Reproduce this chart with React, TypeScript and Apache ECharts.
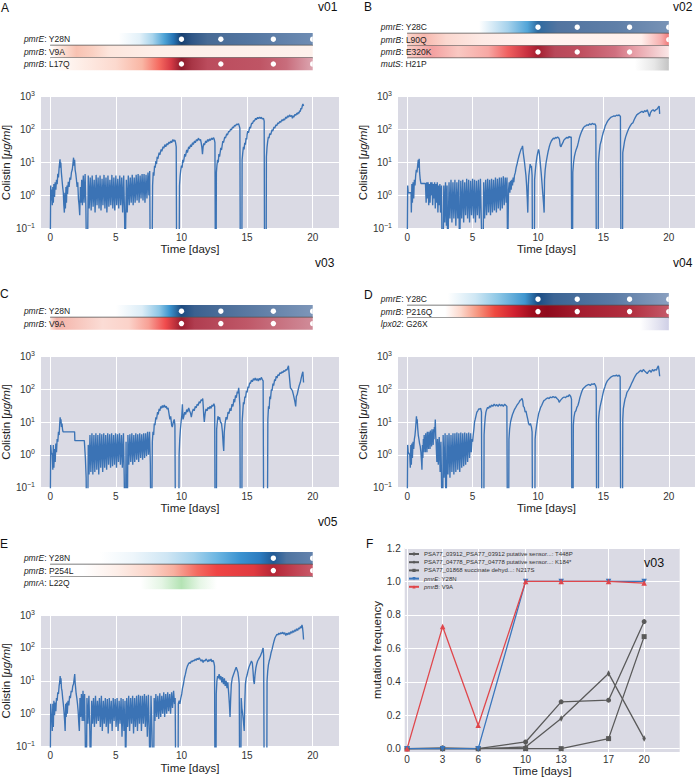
import React, { useEffect, useRef } from 'react';
import * as echarts from 'echarts';

const FONT = '"Liberation Sans", Arial, sans-serif';
const BG = '#dadae4';
const LINE = '#3b73b5';
const TXT = '#333333';

// ---------- colistin time series (day, µg/ml); 0.01 = below axis ----------
const colistinA: [number, number][] = [
[0,0.01],[0.04,2],[0.08,0.7],[0.12,1.5],[0.16,0.5],[0.2,1.8],[0.24,0.6],[0.28,2.2],[0.33,0.9],[0.38,2.5],[0.43,1.5],[0.48,3],[0.53,2.2],[0.58,4.5],[0.63,3.5],[0.68,7],[0.72,10],[0.75,12.5],[0.78,7],[0.81,10],[0.85,5],[0.9,3],[0.95,1.8],[1.0,1.2],[1.04,0.5],[1.08,0.3],[1.12,1.2],[1.16,0.4],[1.2,1.8],[1.24,0.6],[1.28,2],[1.32,1.1],[1.38,2.6],[1.44,1.8],[1.5,3.5],[1.56,3],[1.62,5],[1.68,6],[1.73,9],[1.78,14],[1.82,8],[1.86,12],[1.9,6],[1.95,4.5],[2.0,3],[2.05,1.8],[2.1,2.5],[2.15,0.8],[2.2,0.5],[2.25,0.25],[2.3,1.8],[2.35,0.6],[2.4,3],[2.45,0.5],[2.52,4],[2.58,0.6],[2.66,4.5],[2.72,0.4],[2.77,0.01],[2.84,0.01],
[2.9,4],[2.97,0.4],[3.05,3.5],[3.12,0.35],[3.2,4],[3.27,0.45],[3.35,3],[3.42,0.3],[3.5,4.2],[3.57,0.5],[3.65,3.5],[3.72,0.4],[3.8,4],[3.87,0.35],[3.95,3.2],[4.02,0.5],[4.1,4.2],[4.17,0.4],[4.25,3.5],[4.32,0.3],[4.4,4],[4.47,0.45],[4.55,3],[4.62,0.5],[4.7,4.2],[4.77,0.4],[4.85,3.5],[4.92,0.35],[5.0,4],[5.07,0.5],[5.15,3.2],[5.22,0.4],[5.3,4],[5.37,0.5],[5.45,3.5],[5.52,0.3],[5.6,4],[5.67,0.2],[5.71,0.01],[5.76,0.01],[5.8,3],[5.87,0.3],[5.95,4],[6.02,0.5],[6.1,3.5],[6.17,0.6],[6.25,4.2],[6.32,0.5],[6.4,3.5],[6.47,0.6],[6.55,4.2],[6.62,0.7],[6.7,4.5],[6.77,0.6],[6.85,4],[6.92,0.8],[7.0,4.5],[7.07,0.7],[7.15,4.5],[7.22,0.6],[7.3,4.2],[7.37,0.8],[7.45,5],[7.52,1],[7.58,5.5],[7.62,0.01],[7.76,0.01],
[7.8,2],[7.85,5],[7.9,4],[7.95,8],[8.0,7],[8.05,11],[8.1,9],[8.15,15],[8.2,13],[8.3,20],[8.35,17],[8.45,25],[8.5,22],[8.6,30],[8.65,27],[8.75,35],[8.8,30],[8.9,38],[8.95,34],[9.05,42],[9.1,38],[9.2,45],[9.25,40],[9.35,50],[9.4,44],[9.5,48],[9.55,40],[9.6,30],[9.63,0.01],[9.82,0.01],
[9.85,2],[9.9,4],[9.95,6],[10.0,8],[10.05,7],[10.1,12],[10.15,10],[10.25,18],[10.3,15],[10.4,24],[10.45,20],[10.55,30],[10.6,26],[10.7,35],[10.75,30],[10.85,40],[10.9,35],[11.0,45],[11.05,40],[11.15,50],[11.2,45],[11.3,55],[11.35,48],[11.45,50],[11.5,40],[11.55,30],[11.6,18],[11.65,30],[11.7,38],[11.75,34],[11.85,45],[11.9,40],[12.0,50],[12.05,44],[12.15,52],[12.2,47],[12.3,55],[12.35,50],[12.45,57],[12.5,50],[12.55,40],[12.58,0.01],[12.64,0.01],
[12.66,5],[12.7,8],[12.75,12],[12.8,10],[12.85,18],[12.9,15],[13.0,28],[13.05,24],[13.15,45],[13.2,40],[13.3,60],[13.35,55],[13.45,75],[13.5,68],[13.6,90],[13.65,85],[13.75,105],[13.8,98],[13.9,120],[13.95,112],[14.05,135],[14.1,128],[14.2,148],[14.25,140],[14.35,150],[14.4,130],[14.45,110],[14.48,0.01],[14.6,0.01],
[14.62,12],[14.67,20],[14.72,30],[14.77,25],[14.82,40],[14.87,35],[14.92,55],[14.97,50],[15.0,70],[15.05,90],[15.1,80],[15.2,120],[15.25,110],[15.35,160],[15.4,150],[15.5,190],[15.55,180],[15.65,220],[15.7,200],[15.8,235],[15.85,215],[15.95,240],[16.0,220],[16.1,235],[16.15,210],[16.25,220],[16.3,180],[16.33,0.01],[16.45,0.01],
[16.47,15],[16.52,30],[16.57,45],[16.62,60],[16.67,55],[16.72,75],[16.8,70],[16.9,100],[16.95,90],[17.05,120],[17.1,110],[17.2,140],[17.25,130],[17.35,160],[17.4,150],[17.5,180],[17.55,165],[17.65,200],[17.7,185],[17.8,210],[17.85,195],[17.95,240],[18.0,220],[18.1,260],[18.15,240],[18.25,280],[18.3,250],[18.4,270],[18.45,220],[18.5,260],[18.55,240],[18.65,290],[18.7,270],[18.8,320],[18.85,290],[18.9,340],[18.95,310],[19.0,380],[19.05,350],[19.1,450],[19.15,420],[19.2,520],[19.25,600],[19.3,520]
];

const colistinB: [number, number][] = [
[0,0.01],[0.04,2],[0.08,1.2],[0.3,1.2],[0.32,0.3],[0.36,2.2],[0.4,0.6],[0.45,2.5],[0.5,0.8],[0.55,3],[0.6,2],[0.65,4],[0.7,6],[0.75,5],[0.8,8],[0.85,12],[0.88,7],[0.92,13],[0.95,5],[1.0,3],[1.05,2.3],[1.4,2.3],[1.45,0.6],[1.5,2.5],[1.55,0.8],[1.6,2.5],[1.65,0.5],[1.7,2.2],[1.75,0.6],[1.8,2.5],[1.85,1],[1.9,2.5],[1.95,0.5],[2.0,2.2],[2.05,0.8],[2.1,2.5],[2.15,0.4],[2.2,2.2],[2.25,0.6],[2.3,2.5],[2.35,0.3],[2.4,2],[2.45,0.5],[2.5,2.2],[2.55,0.3],[2.62,2],[2.68,0.01],[2.75,0.01],
[2.8,2],[2.87,0.15],[2.93,2.5],[3.0,0.12],[3.05,2],[3.1,0.01],[3.15,0.01],[3.2,2.5],[3.27,0.2],[3.35,3],[3.42,0.15],[3.5,2.5],[3.57,0.2],[3.65,3],[3.72,0.12],[3.8,2.5],[3.87,0.2],[3.95,3],[4.0,0.01],[4.05,0.01],[4.1,2.8],[4.17,0.2],[4.25,3],[4.32,0.15],[4.4,2.5],[4.47,0.25],[4.55,3.2],[4.62,0.2],[4.7,3],[4.77,0.15],[4.85,2.8],[4.92,0.25],[5.0,3.2],[5.07,0.2],[5.15,3],[5.22,0.15],[5.3,2.8],[5.37,0.25],[5.45,3],[5.52,0.2],[5.6,3.2],[5.67,0.15],[5.74,0.01],[5.8,0.01],[5.85,2.5],[5.92,0.2],[6.0,3],[6.07,0.25],[6.15,3.2],[6.22,0.3],[6.3,3],[6.37,0.25],[6.45,3.2],[6.52,0.3],[6.6,3],[6.67,0.35],[6.75,3.5],[6.82,0.3],[6.9,3.2],[6.97,0.4],[7.05,3.5],[7.12,0.35],[7.2,3.5],[7.27,0.4],[7.35,3.8],[7.42,0.5],[7.5,3.5],[7.57,0.6],[7.63,3.5],[7.68,0.01],[7.72,0.01],
[7.75,1.5],[7.8,2.5],[7.85,1.2],[7.9,2.8],[7.95,1.5],[8.0,3],[8.05,2],[8.1,3.5],[8.15,2.5],[8.2,4],[8.27,5],[8.33,7],[8.4,9],[8.47,12],[8.55,16],[8.62,20],[8.7,25],[8.77,28],[8.82,32],[8.87,20],[8.92,14],[8.97,10],[9.03,6],[9.08,4],[9.13,2],[9.18,0.8],[9.22,0.3],[9.26,2],[9.3,4],[9.35,6],[9.4,9],[9.45,7],[9.5,8],[9.55,4],[9.58,0.01],[9.72,0.01],[9.74,3],[9.8,6],[9.86,10],[9.92,15],[9.98,20],[10.04,25],[10.08,22],[10.13,15],[10.18,9],[10.24,5],[10.3,2.5],[10.36,1.2],[10.42,0.6],[10.47,0.3],[10.5,3],[10.55,6],[10.62,10],[10.7,15],[10.78,22],[10.86,30],[10.94,38],[11.02,45],[11.1,50],[11.18,55],[11.26,52],[11.34,58],[11.42,55],[11.5,60],[11.58,56],[11.64,50],[11.7,32],[11.76,30],[11.82,35],[11.9,40],[11.98,48],[12.06,52],[12.14,55],[12.22,58],[12.3,55],[12.38,62],[12.46,58],[12.54,60],[12.58,0.01],[12.64,0.01],
[12.66,5],[12.72,10],[12.78,15],[12.85,20],[12.92,25],[13.0,30],[13.08,40],[13.16,55],[13.24,70],[13.32,85],[13.4,100],[13.48,115],[13.56,125],[13.65,130],[13.75,140],[13.85,135],[13.95,150],[14.05,140],[14.15,155],[14.25,145],[14.35,150],[14.42,130],[14.46,0.01],[14.6,0.01],
[14.62,10],[14.68,20],[14.75,35],[14.83,45],[14.9,60],[14.98,80],[15.06,100],[15.14,130],[15.22,150],[15.3,175],[15.4,200],[15.5,220],[15.6,240],[15.7,250],[15.8,260],[15.9,255],[16.0,275],[16.1,265],[16.2,280],[16.3,250],[16.34,0.01],[16.46,0.01],
[16.48,20],[16.55,30],[16.62,45],[16.7,60],[16.78,75],[16.86,90],[16.95,110],[17.05,130],[17.15,150],[17.25,160],[17.35,200],[17.45,240],[17.55,280],[17.65,300],[17.75,320],[17.85,340],[17.95,360],[18.05,330],[18.15,380],[18.25,350],[18.35,400],[18.45,300],[18.52,250],[18.6,330],[18.7,380],[18.8,400],[18.9,360],[19.0,400],[19.1,420],[19.2,480],[19.26,520],[19.3,300]
];

const colistinC: [number, number][] = [
[0,0.01],[0.04,2],[0.08,1.2],[0.12,1.1],[0.16,1.0],[0.2,0.35],[0.24,2],[0.28,0.4],[0.33,1.5],[0.38,0.6],[0.43,2.2],[0.48,1.2],[0.53,3],[0.58,2.5],[0.63,5],[0.68,4],[0.72,8],[0.76,14],[0.79,9],[0.82,12],[0.86,7],[0.9,9],[0.94,6],[0.98,5],[1.86,5],[1.88,2.7],[2.6,2.7],[2.68,0.8],[2.74,0.2],[2.77,0.01],[2.86,0.01],
[2.9,2],[2.96,0.25],[3.03,4],[3.1,0.3],[3.18,4.5],[3.25,0.25],[3.33,4],[3.4,0.3],[3.48,4.5],[3.55,0.35],[3.63,4],[3.7,0.25],[3.78,4.5],[3.85,0.4],[3.93,4.2],[4.0,0.3],[4.08,4.5],[4.15,0.4],[4.23,4],[4.3,0.35],[4.38,4.5],[4.45,0.5],[4.53,4.2],[4.6,0.4],[4.68,4.5],[4.75,0.45],[4.83,4],[4.9,0.5],[4.98,4.5],[5.05,0.4],[5.13,4.2],[5.2,0.6],[5.28,4.5],[5.35,0.5],[5.43,4],[5.5,0.4],[5.58,4.5],[5.64,0.2],[5.68,0.01],[5.74,0.01],[5.78,2.5],[5.82,0.01],[5.88,0.01],[5.92,4],[5.99,0.5],[6.07,4.2],[6.14,0.6],[6.22,4.5],[6.29,0.5],[6.37,4],[6.44,0.6],[6.52,4.5],[6.59,0.7],[6.67,4.2],[6.74,0.6],[6.82,4.5],[6.89,0.8],[6.97,4.2],[7.04,0.7],[7.12,4.5],[7.19,0.8],[7.27,4.5],[7.34,0.9],[7.42,5],[7.49,1],[7.57,5],[7.63,0.5],[7.66,0.01],[7.74,0.01],
[7.78,2.5],[7.83,5],[7.88,4],[7.93,9],[7.98,8],[8.05,14],[8.1,12],[8.18,20],[8.23,17],[8.3,25],[8.35,22],[8.43,30],[8.48,26],[8.55,32],[8.6,28],[8.7,33],[8.75,28],[8.85,30],[8.9,25],[8.98,27],[9.05,18],[9.12,12],[9.18,15],[9.25,8],[9.3,7],[9.38,10],[9.45,12],[9.5,8],[9.54,0.01],[9.8,0.01],
[9.82,1],[9.87,3],[9.92,6],[9.97,10],[10.02,15],[10.07,35],[10.12,12],[10.18,15],[10.25,20],[10.32,17],[10.4,24],[10.47,20],[10.55,27],[10.62,22],[10.7,18],[10.75,14],[10.82,20],[10.9,25],[10.97,22],[11.05,30],[11.12,27],[11.2,35],[11.27,32],[11.35,42],[11.42,38],[11.5,48],[11.57,45],[11.62,52],[11.66,30],[11.7,15],[11.74,10],[11.8,18],[11.87,25],[11.95,22],[12.02,28],[12.1,25],[12.18,30],[12.25,26],[12.33,33],[12.4,30],[12.47,36],[12.53,30],[12.56,0.01],[12.66,0.01],
[12.68,6],[12.73,10],[12.78,15],[12.83,12],[12.9,14],[12.97,10],[13.05,9],[13.12,5],[13.18,2],[13.22,1.3],[13.26,5],[13.32,9],[13.4,14],[13.47,12],[13.55,20],[13.62,18],[13.7,26],[13.77,22],[13.85,35],[13.92,30],[14.0,50],[14.05,40],[14.12,65],[14.18,55],[14.25,85],[14.3,75],[14.36,110],[14.4,70],[14.45,30],[14.48,0.01],[14.6,0.01],
[14.62,10],[14.67,20],[14.72,40],[14.77,35],[14.83,60],[14.88,55],[14.95,90],[15.0,80],[15.07,120],[15.12,110],[15.2,160],[15.25,150],[15.33,190],[15.4,170],[15.48,210],[15.55,190],[15.62,220],[15.7,185],[15.78,210],[15.85,180],[15.93,215],[16.0,190],[16.08,230],[16.15,200],[16.22,180],[16.26,0.01],[16.55,0.01],
[16.58,12],[16.63,30],[16.68,25],[16.73,60],[16.78,50],[16.85,100],[16.9,90],[16.97,150],[17.02,130],[17.1,200],[17.15,180],[17.22,250],[17.28,220],[17.35,280],[17.42,260],[17.5,320],[17.57,300],[17.65,340],[17.72,320],[17.8,370],[17.87,350],[17.95,400],[18.02,380],[18.1,450],[18.15,520],[18.2,300],[18.25,180],[18.3,110],[18.38,100],[18.45,90],[18.52,70],[18.6,50],[18.65,40],[18.7,30],[18.75,60],[18.82,70],[18.9,100],[18.97,130],[19.05,160],[19.12,220],[19.2,300],[19.25,340],[19.3,160]
];

const colistinD: [number, number][] = [
[0,0.01],[0.04,2],[0.08,1.2],[0.2,1.0],[0.24,0.4],[0.28,2],[0.32,0.5],[0.36,2.2],[0.4,0.8],[0.45,2.5],[0.5,1.5],[0.55,3],[0.6,4],[0.64,6],[0.68,10],[0.71,15],[0.74,9],[0.77,12],[0.8,7],[0.85,4],[0.9,3],[0.95,2.2],[1.0,1.8],[1.05,1.2],[1.1,0.6],[1.13,0.35],[1.17,2],[1.2,0.8],[1.24,3],[1.27,1.2],[1.3,4],[1.33,1.5],[1.36,3.5],[1.39,1.2],[1.42,4.5],[1.45,1.8],[1.48,3.5],[1.51,1.2],[1.54,5],[1.57,1.8],[1.6,4],[1.63,1.5],[1.66,5],[1.69,2],[1.72,4.5],[1.75,1.5],[1.78,5.5],[1.81,2.2],[1.84,4.5],[1.87,1.8],[1.9,6],[1.93,2.5],[1.96,5],[1.99,2],[2.02,6],[2.05,3],[2.08,7],[2.12,5],[2.15,12],[2.18,4],[2.22,2],[2.27,0.6],[2.32,3],[2.38,0.5],[2.45,3.5],[2.52,0.3],[2.58,2.5],[2.63,0.15],[2.66,0.01],[2.72,0.01],
[2.75,4],[2.82,0.2],[2.9,4.5],[2.97,0.01],[3.0,0.01],[3.05,4],[3.12,0.25],[3.2,4.5],[3.27,0.2],[3.35,4],[3.42,0.3],[3.5,4.5],[3.57,0.25],[3.65,4.5],[3.72,0.3],[3.8,4.8],[3.87,0.35],[3.95,4.5],[4.02,0.3],[4.1,4.8],[4.17,0.4],[4.25,4.5],[4.32,0.45],[4.4,4.8],[4.47,0.5],[4.55,4.5],[4.62,0.6],[4.7,4.8],[4.77,0.8],[4.85,4.5],[4.9,1.2],[4.95,3],[5.0,2.5],[5.05,4],[5.1,6],[5.15,10],[5.2,12],[5.27,16],[5.33,20],[5.4,22],[5.47,25],[5.55,25],[5.62,26],[5.68,20],[5.71,0.01],[5.86,0.01],
[5.88,4],[5.92,8],[5.97,14],[6.02,20],[6.08,24],[6.15,28],[6.22,26],[6.3,31],[6.38,28],[6.45,33],[6.55,30],[6.65,35],[6.75,31],[6.85,34],[6.95,30],[7.05,35],[7.15,31],[7.25,34],[7.35,30],[7.45,35],[7.55,32],[7.62,30],[7.66,0.01],[7.76,0.01],
[7.78,3],[7.83,6],[7.9,10],[7.97,13],[8.05,17],[8.12,20],[8.2,24],[8.3,28],[8.38,32],[8.45,35],[8.55,40],[8.62,45],[8.7,48],[8.78,52],[8.83,45],[8.88,30],[8.95,28],[9.02,20],[9.08,22],[9.15,16],[9.22,12],[9.28,9],[9.35,8],[9.42,9],[9.5,7],[9.55,5],[9.58,0.01],[9.76,0.01],
[9.78,3],[9.83,5],[9.9,8],[9.97,12],[10.05,18],[10.12,22],[10.2,28],[10.28,32],[10.36,38],[10.45,45],[10.55,48],[10.65,52],[10.75,55],[10.85,52],[10.95,58],[11.05,55],[11.15,60],[11.25,56],[11.35,58],[11.45,52],[11.55,48],[11.62,40],[11.7,45],[11.8,50],[11.9,55],[12.0,58],[12.1,55],[12.2,62],[12.3,60],[12.4,68],[12.5,60],[12.56,50],[12.59,0.01],[12.68,0.01],
[12.7,8],[12.75,14],[12.82,20],[12.9,22],[12.97,28],[13.05,32],[13.12,40],[13.2,55],[13.28,70],[13.35,85],[13.42,100],[13.5,110],[13.6,120],[13.7,130],[13.8,135],[13.9,140],[14.0,130],[14.1,145],[14.2,140],[14.3,150],[14.4,130],[14.45,110],[14.48,0.01],[14.62,0.01],
[14.63,12],[14.68,20],[14.75,30],[14.82,40],[14.9,55],[14.97,75],[15.05,100],[15.12,120],[15.2,150],[15.3,180],[15.4,200],[15.5,220],[15.6,240],[15.7,250],[15.8,260],[15.9,255],[16.0,270],[16.1,250],[16.2,270],[16.28,240],[16.32,0.01],[16.46,0.01],
[16.48,12],[16.52,25],[16.58,35],[16.65,50],[16.72,60],[16.8,80],[16.88,90],[16.95,100],[17.05,120],[17.15,150],[17.25,180],[17.35,220],[17.45,260],[17.55,300],[17.65,320],[17.75,350],[17.85,380],[17.95,340],[18.05,400],[18.15,360],[18.25,330],[18.35,300],[18.45,350],[18.55,380],[18.65,330],[18.75,400],[18.85,360],[18.95,400],[19.05,380],[19.12,450],[19.2,520],[19.25,380],[19.3,250]
];

const colistinE: [number, number][] = [
[0,0.01],[0.04,2],[0.08,1.0],[0.12,0.8],[0.16,0.3],[0.2,2],[0.24,0.4],[0.28,2.5],[0.33,0.9],[0.38,2.2],[0.43,1.2],[0.48,3],[0.53,2.5],[0.58,4.5],[0.63,4],[0.68,7],[0.72,9],[0.76,14],[0.79,8],[0.82,12],[0.86,6],[0.9,5],[0.95,3],[1.0,2],[1.05,1.2],[1.1,0.6],[1.14,0.3],[1.18,2],[1.22,0.8],[1.26,2.2],[1.3,1],[1.36,2.5],[1.42,1.8],[1.48,3.5],[1.54,3],[1.6,5],[1.66,4.5],[1.72,7],[1.78,8],[1.83,12],[1.87,16],[1.9,9],[1.94,6],[1.98,4],[2.03,3],[2.08,2],[2.13,1.2],[2.18,0.5],[2.22,0.3],[2.27,3],[2.32,0.8],[2.38,4],[2.44,0.6],[2.5,5],[2.56,0.6],[2.62,4],[2.67,0.2],[2.7,0.01],[2.76,0.01],
[2.8,3],[2.87,0.5],[2.95,3.5],[3.02,0.3],[3.07,0.01],[3.12,0.01],[3.16,2.5],[3.23,0.5],[3.3,3],[3.37,0.4],[3.45,3.5],[3.52,0.5],[3.6,2.5],[3.67,0.6],[3.75,3],[3.82,0.4],[3.9,3.5],[3.97,0.3],[4.05,2.5],[4.12,0.5],[4.2,3],[4.27,0.4],[4.35,2.8],[4.42,0.25],[4.5,3],[4.57,0.5],[4.65,2.5],[4.72,0.3],[4.8,3],[4.87,0.6],[4.95,2.8],[5.02,0.4],[5.1,3],[5.17,0.3],[5.25,2.5],[5.32,0.5],[5.4,3],[5.47,0.2],[5.55,2.8],[5.62,0.3],[5.7,2.5],[5.74,0.01],[5.79,0.01],[5.83,3],[5.9,0.4],[5.98,3.5],[6.05,0.3],[6.13,3],[6.2,0.5],[6.28,3.5],[6.35,0.25],[6.43,3],[6.5,0.4],[6.58,3.5],[6.65,0.3],[6.73,3.8],[6.8,0.5],[6.88,3.5],[6.95,0.3],[7.03,3.5],[7.1,0.5],[7.18,4],[7.25,0.4],[7.33,3.5],[7.4,0.2],[7.48,3.8],[7.55,0.3],[7.6,0.01],[7.64,0.01],[7.68,3.5],[7.75,0.3],[7.82,0.01],[7.88,0.01],[7.92,3],[7.98,0.6],[8.05,4],[8.12,0.8],[8.2,3.5],[8.27,0.7],[8.35,4.2],[8.42,0.8],[8.5,3.5],[8.57,1],[8.65,4.5],[8.72,0.8],[8.8,4],[8.87,1],[8.95,4.5],[9.02,1.2],[9.1,4],[9.17,1],[9.25,4.5],[9.32,1.5],[9.4,5],[9.47,2],[9.52,3],[9.56,0.01],[9.74,0.01],
[9.76,2],[9.82,2.5],[9.88,2],[9.95,3],[10.02,4],[10.08,6],[10.15,8],[10.22,12],[10.3,16],[10.37,22],[10.45,28],[10.52,32],[10.6,36],[10.67,34],[10.75,40],[10.82,38],[10.9,42],[10.97,40],[11.05,46],[11.12,42],[11.2,48],[11.27,44],[11.35,50],[11.42,45],[11.5,40],[11.57,44],[11.65,36],[11.72,42],[11.8,40],[11.87,46],[11.95,42],[12.02,38],[12.1,44],[12.17,40],[12.25,46],[12.32,38],[12.4,42],[12.47,36],[12.52,28],[12.55,0.01],[12.63,0.01],
[12.65,4],[12.7,10],[12.75,14],[12.8,12],[12.87,16],[12.93,11],[13.0,14],[13.07,9],[13.13,13],[13.2,8],[13.27,12],[13.33,7],[13.4,10],[13.47,6],[13.53,9],[13.6,4],[13.65,2],[13.7,0.8],[13.75,3],[13.8,8],[13.87,12],[13.95,15],[14.02,18],[14.1,22],[14.17,26],[14.23,22],[14.3,18],[14.36,12],[14.4,8],[14.43,0.01],[14.52,0.01],
[14.55,3],[14.6,1.5],[14.66,1],[14.72,0.6],[14.78,0.3],[14.82,2],[14.87,8],[14.93,12],[15.0,15],[15.07,20],[15.13,25],[15.2,30],[15.27,35],[15.33,40],[15.4,35],[15.45,20],[15.5,10],[15.55,8],[15.6,15],[15.67,25],[15.73,32],[15.8,40],[15.87,45],[15.93,50],[16.0,55],[16.07,65],[16.13,75],[16.18,90],[16.22,100],[16.26,60],[16.3,0.01],[16.5,0.01],
[16.52,10],[16.57,20],[16.62,30],[16.68,40],[16.75,50],[16.82,70],[16.9,90],[16.97,120],[17.05,160],[17.12,200],[17.2,230],[17.27,260],[17.35,250],[17.42,280],[17.5,260],[17.57,290],[17.65,270],[17.72,300],[17.8,260],[17.87,290],[17.95,240],[18.02,280],[18.1,250],[18.17,290],[18.25,260],[18.32,310],[18.4,280],[18.47,330],[18.55,300],[18.62,350],[18.7,320],[18.77,380],[18.85,340],[18.92,400],[19.0,380],[19.07,450],[19.12,400],[19.18,500],[19.22,420],[19.26,300],[19.3,180]
];

// ---------- panel F: mutation frequencies ----------
const freqDays = [0, 3, 6, 10, 13, 17, 20];
const freqT448P = [0, 0.005, 0, 0.04, 0.28, 0.29, 0.76];
const freqK184 = [0, 0, 0, 0.01, 0.18, 0.45, 0.06];
const freqN217S = [0, 0, 0, 0, 0, 0.06, 0.67];
const freqPmrE = [0, 0, 0, 1, 1, 1, 1];
const freqPmrB = [0, 0.73, 0.14, 1, 1, 1, 0.99];

const timeTicks = [0, 5, 10, 15, 20];
const logRange = [0.1, 1000];
const freqTicks = [0, 0.2, 0.4, 0.6, 0.8, 1.0, 1.2];

// ---------- mutation tracks ----------
type Track = { gene: string; mut: string; dots: number[]; stops: [number, string][] };

const tracksA: Track[] = [
  { gene: 'pmrE', mut: 'Y28N', dots: [10, 13, 17, 20], stops: [[0,'#ffffff'],[5.2,'#ffffff'],[6.8,'#e3f1f9'],[7.8,'#a8d4ec'],[8.7,'#4ea3d6'],[9.4,'#2573b4'],[10,'#173f70'],[10.8,'#2f5686'],[12,'#486b95'],[15,'#5275a0'],[20,'#6e8cb3']] },
  { gene: 'pmrB', mut: 'V9A', dots: [], stops: [[0,'#ffffff'],[0.8,'#fde4da'],[2.0,'#f8c2b2'],[3.2,'#fad0c2'],[4.5,'#fde6dd'],[8,'#fdefe9'],[20,'#fdf1ec']] },
  { gene: 'pmrB', mut: 'L17Q', dots: [10, 13, 17, 20], stops: [[0,'#ffffff'],[2,'#fef0ea'],[5,'#fcd9ce'],[7,'#f9b6a4'],[8.3,'#f56a60'],[9.2,'#d63a45'],[10,'#8e1c2c'],[10.8,'#a83646'],[12,'#bb4c5d'],[16,'#bf5565'],[18,'#c86d7c'],[20,'#dca5b0']] },
];
const tracksB: Track[] = [
  { gene: 'pmrE', mut: 'Y28C', dots: [10, 13, 17, 20], stops: [[0,'#ffffff'],[5.5,'#ffffff'],[7.7,'#a6d2ec'],[9.2,'#52a5d8'],[10,'#2e6aa0'],[11.5,'#5274a0'],[16,'#5f7fa8'],[20,'#7893b6']] },
  { gene: 'pmrB', mut: 'L90Q', dots: [20], stops: [[0,'#fbd6cd'],[1.3,'#f7b8ae'],[3,'#fbd8d0'],[5.7,'#fdeae5'],[10,'#fff3f0'],[17.9,'#fff0ec'],[19.4,'#f6aeae'],[20,'#f07a7a']] },
  { gene: 'pmrB', mut: 'E320K', dots: [10, 13, 17], stops: [[0,'#fbd0c8'],[1.9,'#f3a0a0'],[3.9,'#f9c8c2'],[6.2,'#f7a8a4'],[7.7,'#f06060'],[9.2,'#c83040'],[10,'#a51f30'],[11.3,'#b8485a'],[13.3,'#c05060'],[15.9,'#d07080'],[17.4,'#e8a0a8'],[20,'#fae6e6']] },
  { gene: 'mutS', mut: 'H21P', dots: [], stops: [[0,'#ffffff'],[17.4,'#ffffff'],[18.9,'#e6e6e6'],[20,'#c4c4c4']] },
];
const tracksC: Track[] = [
  { gene: 'pmrE', mut: 'Y28N', dots: [10, 13, 17, 20], stops: [[0,'#ffffff'],[5,'#ffffff'],[7,'#dcedf7'],[8.3,'#8ec7e6'],[9.1,'#3d95cf'],[10,'#1d4b80'],[11,'#3b6190'],[14,'#52739d'],[20,'#7d96b9']] },
  { gene: 'pmrB', mut: 'V9A', dots: [10, 13, 17, 20], stops: [[0,'#fbe3dc'],[0.5,'#f4b3a9'],[2,'#f7c5bc'],[4,'#fbdcd5'],[6,'#fbd2c9'],[7.5,'#f7a095'],[8.8,'#f04a4c'],[10,'#9b1f30'],[11,'#b03d50'],[15,'#bf5868'],[20,'#d08c99']] },
];
const tracksD: Track[] = [
  { gene: 'pmrE', mut: 'Y28C', dots: [10, 13, 17, 20], stops: [[0,'#ffffff'],[3.1,'#ffffff'],[5.2,'#cfe7f4'],[6.9,'#8fc8e6'],[9,'#3f96cf'],[10,'#1a4d85'],[11.2,'#3b6494'],[15.8,'#5a7ba5'],[20,'#8aa0c0']] },
  { gene: 'pmrB', mut: 'P216Q', dots: [10, 13, 17, 20], stops: [[0,'#ffffff'],[2.9,'#ffffff'],[4.1,'#fcd8cc'],[5.4,'#f6957e'],[6.7,'#ef4a40'],[8.2,'#d02030'],[9.5,'#a00d1e'],[10.7,'#8f0a1c'],[13.3,'#a51e30'],[17.1,'#b23040'],[20,'#c55a6a']] },
  { gene: 'lpx02', mut: 'G26X', dots: [], stops: [[0,'#ffffff'],[17.8,'#ffffff'],[19.1,'#e4e4f1'],[20,'#cfcfe6']] },
];
const tracksE: Track[] = [
  { gene: 'pmrE', mut: 'Y28N', dots: [17, 20], stops: [[0,'#ffffff'],[3.8,'#ffffff'],[6.3,'#eef6fb'],[8.9,'#cfe6f4'],[10.9,'#a5d2ec'],[12.7,'#6db6e2'],[14.5,'#3a92d0'],[16,'#2c7bbf'],[17,'#215a95'],[18,'#4f74a0'],[20,'#6483ad']] },
  { gene: 'pmrB', mut: 'P254L', dots: [17, 20], stops: [[0,'#ffffff'],[2.5,'#ffffff'],[5.1,'#fdeee8'],[7.6,'#fbd4c8'],[9.4,'#f8b0a0'],[11.2,'#f46a60'],[12.7,'#ef4444'],[15.5,'#e03a40'],[17,'#b42636'],[18.5,'#c04050'],[20,'#c85a6a']] },
  { gene: 'pmrA', mut: 'L22Q', dots: [], stops: [[0,'#ffffff'],[6.9,'#ffffff'],[8.5,'#e4f5e4'],[10,'#b4e3b4'],[11.4,'#e6f6e6'],[12.7,'#ffffff'],[20,'#ffffff']] },
];

// ---------- layout ----------
const ROW_H = 12.4;
const plots = [
  { left: 41, top: 96.7, width: 298, height: 131.6, data: colistinA },
  { left: 398, top: 96.7, width: 297, height: 131.6, data: colistinB },
  { left: 41, top: 356.5, width: 298, height: 131, data: colistinC },
  { left: 398, top: 356.5, width: 297, height: 131, data: colistinD },
  { left: 41, top: 615, width: 298, height: 131.7, data: colistinE },
];
const trackPanels = [
  { left: 41, width: 298, top: 33, tracks: tracksA },
  { left: 398, width: 297, top: 21, tracks: tracksB },
  { left: 41, width: 298, top: 305, tracks: tracksC },
  { left: 398, width: 297, top: 293, tracks: tracksD },
  { left: 41, width: 298, top: 552, tracks: tracksE },
];
const labels: [string, number, number, number][] = [
  ['A', 1, 2, 12], ['v01', 318, 1, 12], ['B', 364, 1, 12], ['v02', 673, 1, 12],
  ['v03', 315, 257, 12], ['v04', 673, 257, 12], ['C', 0, 288, 12], ['D', 364, 289, 12],
  ['v05', 318, 516, 12], ['E', 0, 538, 12], ['F', 366, 538, 12], ['v03', 644, 556, 12.5],
];

function logFormatter(v: number) {
  const e = Math.round(Math.log10(v));
  return '{b|10}{s|' + (e < 0 ? '\u2212' + -e : String(e)) + '}';
}

function trackSeries(tracks: Track[], idx: number) {
  return {
    type: 'custom',
    xAxisIndex: idx,
    yAxisIndex: idx,
    silent: true,
    clip: false,
    data: tracks.map((_, i) => [i]),
    renderItem: (params: any, api: any) => {
      const i = api.value(0) as number;
      const tr = tracks[i];
      const [x0, yTop] = api.coord([0, i]);
      const [x1, yBot] = api.coord([20, i + 1]);
      const yMid = (yTop + yBot) / 2;
      const children: any[] = [];
      children.push({
        type: 'rect',
        shape: { x: x0, y: yTop, width: x1 - x0, height: yBot - yTop },
        style: {
          fill: new echarts.graphic.LinearGradient(0, 0, 1, 0,
            tr.stops.map(([d, c]) => ({ offset: d / 20, color: c }))),
        },
      });
      if (i < tracks.length - 1) {
        children.push({
          type: 'line',
          shape: { x1: x0, y1: yBot, x2: x1, y2: yBot },
          style: { stroke: '#505050', lineWidth: 1.2 },
        });
      }
      tr.dots.forEach((d) => {
        const [cx, cy] = api.coord([d, i + 0.5]);
        if (d >= 20) {
          children.push({
            type: 'sector',
            shape: { cx, cy, r: 2.7, r0: 0, startAngle: Math.PI / 2, endAngle: (Math.PI * 3) / 2 },
            style: { fill: '#ffffff' },
          });
        } else {
          children.push({ type: 'circle', shape: { cx, cy, r: 2.7 }, style: { fill: '#ffffff' } });
        }
      });
      children.push({
        type: 'text',
        style: {
          text: '{i|' + tr.gene + '}: ' + tr.mut,
          x: x0 - 26.3,
          y: yMid,
          verticalAlign: 'middle',
          align: 'left',
          fontSize: 8.5,
          fontFamily: FONT,
          fill: '#222222',
          rich: { i: { fontStyle: 'italic', fontSize: 8.5, fontFamily: FONT, fill: '#222222', color: '#222222' } },
        },
      });
      return { type: 'group', children };
    },
  };
}

export default function App() {
  const ref = useRef<HTMLDivElement>(null);
  useEffect(() => {
    if (!ref.current) return;
    const chart = echarts.init(ref.current, undefined, { renderer: 'svg' });
    const grids: any[] = [];
    const xAxes: any[] = [];
    const yAxes: any[] = [];
    const series: any[] = [];

    const nameStyle = { fontSize: 11.5, color: '#222222', fontFamily: FONT };

    plots.forEach((p, k) => {
      grids.push({ left: p.left, top: p.top, width: p.width, height: p.height, show: true, backgroundColor: BG, borderWidth: 0, containLabel: false, outerBoundsMode: 'none' });
      xAxes.push({
        gridIndex: k, type: 'value', min: -0.7, max: 22,
        axisLine: { show: false }, axisTick: { show: false, customValues: timeTicks },
        axisLabel: { customValues: timeTicks, fontSize: 10, color: TXT, fontFamily: FONT, margin: 4 },
        splitLine: { show: true, lineStyle: { color: '#ffffff', width: 1 } },
        name: 'Time [days]', nameLocation: 'middle', nameGap: 14.5, nameTextStyle: nameStyle,
      });
      yAxes.push({
        gridIndex: k, type: 'log', logBase: 10, min: logRange[0], max: logRange[1],
        axisLine: { show: false }, axisTick: { show: false },
        splitLine: { show: true, lineStyle: { color: '#ffffff', width: 1 } },
        minorSplitLine: { show: false },
        axisLabel: {
          formatter: logFormatter, margin: 6, color: TXT, fontFamily: FONT,
          rich: {
            b: { fontSize: 10, color: TXT, fontFamily: FONT },
            s: { fontSize: 7, color: TXT, fontFamily: FONT, padding: [0, 0, 6, 0] },
          },
        },
        name: 'Colistin [{i|\u03bcg/ml}]', nameLocation: 'middle', nameGap: 27,
        nameTextStyle: { ...nameStyle, rich: { i: { fontStyle: 'italic', fontSize: 11.5, color: '#222222', fontFamily: FONT } } },
      });
      series.push({
        type: 'line', xAxisIndex: k, yAxisIndex: k, data: p.data, showSymbol: false, symbol: 'none',
        lineStyle: { color: LINE, width: 1.35 }, clip: true, silent: true,
      });
    });

    // panel F
    const fk = 5;
    grids.push({ left: 404.7, top: 548, width: 275, height: 204, show: true, backgroundColor: BG, borderWidth: 0, containLabel: false, outerBoundsMode: 'none' });
    xAxes.push({
      gridIndex: fk, type: 'value', min: -0.2, max: 23,
      axisLine: { show: false }, axisTick: { show: false, customValues: freqDays },
      axisLabel: { customValues: freqDays, fontSize: 10, color: TXT, fontFamily: FONT, margin: 2 },
      splitLine: { show: true, lineStyle: { color: '#ffffff', width: 1 } },
      name: 'Time [days]', nameLocation: 'middle', nameGap: 13, nameTextStyle: nameStyle,
    });
    yAxes.push({
      gridIndex: fk, type: 'value', min: -0.02, max: 1.2,
      axisLine: { show: false }, axisTick: { show: false, customValues: freqTicks },
      axisLabel: { customValues: freqTicks, fontSize: 10, color: TXT, fontFamily: FONT, margin: 4, formatter: (v: number) => v.toFixed(1) },
      splitLine: { show: true, lineStyle: { color: '#ffffff', width: 1 } },
      name: 'mutation frequency', nameLocation: 'middle', nameGap: 18, nameTextStyle: nameStyle,
    });
    const GRAY = '#5a5a5a';
    const fSeries: [string, number[], string, any, string, number][] = [
      ['PSA77_03912_PSA77_03912 putative sensor...: T448P', freqT448P, 'circle', 5, GRAY, 0],
      ['PSA77_04778_PSA77_04778 putative sensor...: K184*', freqK184, 'diamond', [3.5, 6.5], GRAY, 0],
      ['PSA77_01868 succinate dehyd...: N217S', freqN217S, 'rect', 5, GRAY, 0],
      ['pmrE: Y28N', freqPmrE, 'triangle', 5.5, '#3a76bd', 180],
      ['pmrB: V9A', freqPmrB, 'triangle', 5.5, '#e0474c', 0],
    ];
    fSeries.forEach(([name, vals, sym, size, color, rot]) => {
      series.push({
        name, type: 'line', xAxisIndex: fk, yAxisIndex: fk,
        data: freqDays.map((d, i) => [d, vals[i]]),
        symbol: sym, symbolSize: size, symbolRotate: rot, showSymbol: true,
        itemStyle: { color }, lineStyle: { color, width: 1.3 }, silent: true,
      });
    });

    // tracks
    trackPanels.forEach((tp, j) => {
      const idx = 6 + j;
      grids.push({ left: tp.left, width: tp.width, top: tp.top, height: tp.tracks.length * ROW_H, show: false, containLabel: false, outerBoundsMode: 'none' });
      xAxes.push({ gridIndex: idx, type: 'value', min: -0.7, max: 22, show: false });
      yAxes.push({ gridIndex: idx, type: 'value', min: 0, max: tp.tracks.length, inverse: true, show: false });
      series.push(trackSeries(tp.tracks, idx));
    });

    const titles = labels.map(([t, x, y, fs]) => ({
      text: t, left: x, top: y, padding: 0,
      textStyle: { fontSize: fs, fontWeight: 'normal', color: '#111111', fontFamily: FONT },
    }));

    chart.setOption({
      animation: false,
      backgroundColor: '#ffffff',
      title: titles,
      grid: grids,
      xAxis: xAxes,
      yAxis: yAxes,
      legend: {
        data: fSeries.map((s) => s[0]),
        orient: 'vertical', left: 408, top: 550.5, padding: 0, itemGap: 1.2,
        itemWidth: 10, itemHeight: 4,
        textStyle: {
          fontSize: 6, color: '#333333', fontFamily: FONT, lineHeight: 7,
          rich: { i: { fontStyle: 'italic', fontSize: 6, color: '#333333', fontFamily: FONT } },
        },
        formatter: (name: string) => (name.startsWith('pmr') ? '{i|' + name.slice(0, 4) + '}' + name.slice(4) : name),
        selectedMode: false,
      },
      series,
    });
    return () => chart.dispose();
  }, []);
  return <div ref={ref} style={{ position: 'absolute', left: 0, top: 0, width: 696, height: 777 }} />;
}
